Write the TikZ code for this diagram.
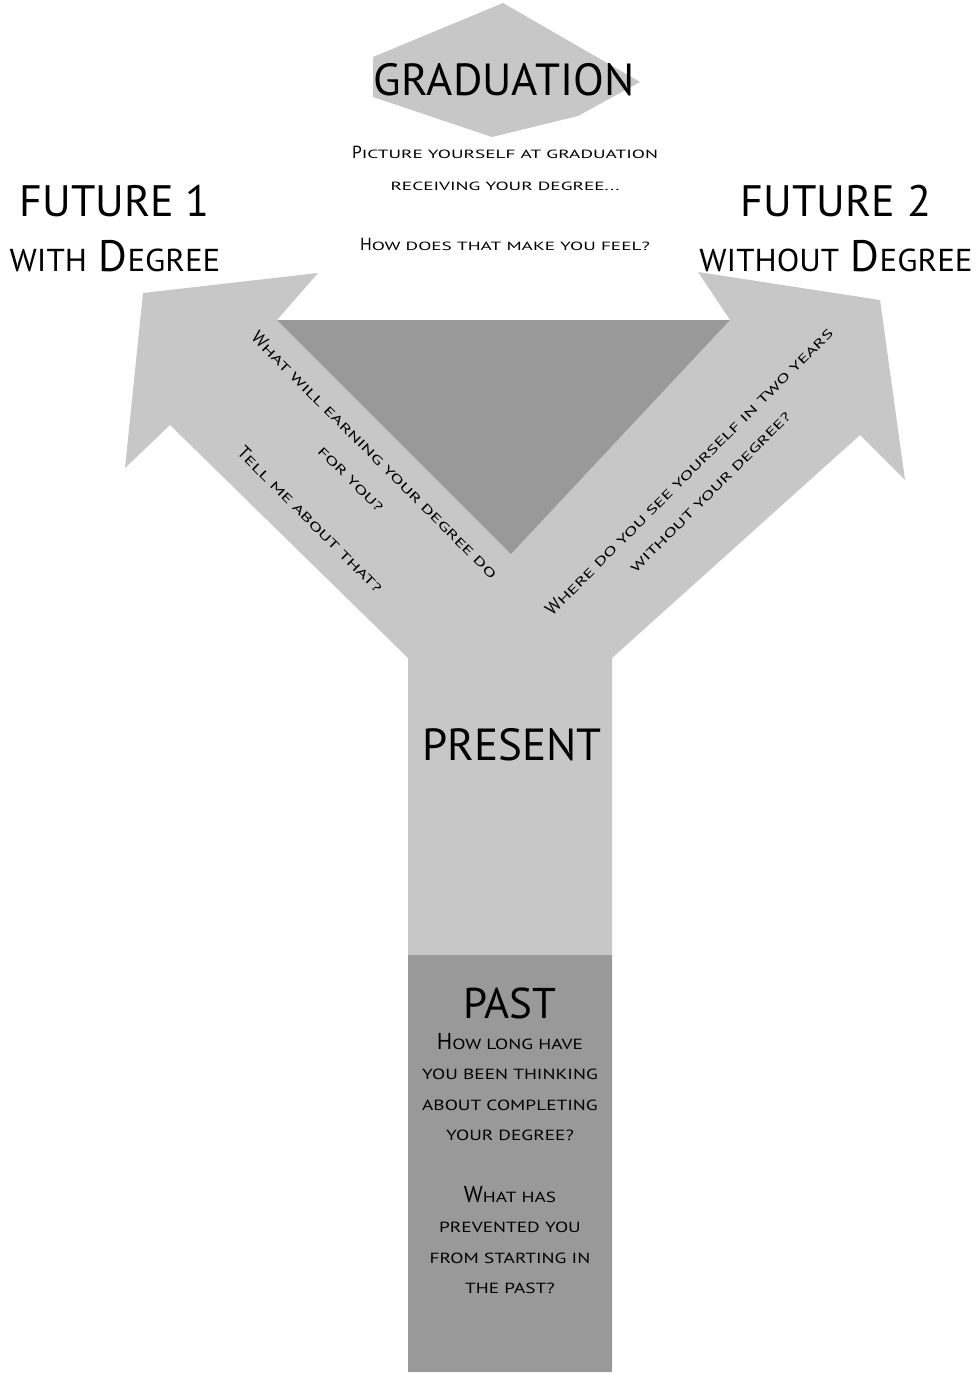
\documentclass[tikz,border=0pt]{standalone}
\usepackage{fontspec}
\setmainfont{PT Sans}
\newcommand\lcx[3]{\scalebox{#1}[#2]{\MakeUppercase{#3}}}
\newcommand\hsc[1]{\lcx{0.75}{0.72}{#1}}
\newcommand\qsc[1]{\lcx{1.1}{0.68}{#1}}
\newcommand\psc[1]{\lcx{0.84}{0.64}{#1}}
\colorlet{lightfill}{black!22}
\colorlet{darkfill}{black!40}
\begin{document}
\begin{tikzpicture}[x=1pt,y=-1pt,
  lightshape/.style={fill=lightfill,draw=none},
  darkshape/.style={fill=darkfill,draw=none},
  bigtitle/.style={inner sep=0pt,anchor=base,font=\fontsize{43}{50}\selectfont},
  headblock/.style={inner sep=0pt,anchor=north,align=center,font=\fontsize{44}{55}\selectfont},
  question/.style={inner sep=0pt,align=center,font=\fontsize{18}{33}\selectfont}]
\useasboundingbox (0,0) rectangle (978,1374);
\fill[white] (0,0) rectangle (978,1374);
% Y-shaped arrow body
\path[lightshape] (143,293) -- (318,273) -- (277,320) -- (511,554) -- (730,320)
  -- (698,272) -- (880,300) -- (905,480) -- (860,435) -- (612,658)
  -- (612,1372) -- (408,1372) -- (408,658) -- (170,425) -- (125,468) -- cycle;
% darker wedge between the arms
\path[darkshape] (277,320) -- (730,320) -- (511,554) -- cycle;
% graduation arrowhead
\path[lightshape] (503,3) -- (640,82) -- (578,116) -- (492,137) -- (373,97) -- (373,57) -- cycle;
% past block
\path[darkshape] (408,955) rectangle (612,1372);
% texts
\node[bigtitle,font=\fontsize{45}{50}\selectfont] (grad) at (504,95) {GRADUATION};
\node[inner sep=0pt,anchor=north,align=center,font=\fontsize{17.5}{32}\selectfont] (gradq) at (505,146)
  {P\qsc{icture yourself at graduation}\\ \qsc{receiving your degree...}\\[28pt] H\qsc{ow does that make you feel?}};
\node[headblock] (fut1) at (115,185) {FUTURE 1\\ \hsc{with} D\hsc{egree}};
\node[headblock] (fut2) at (836,185) {FUTURE 2\\ \hsc{without} D\hsc{egree}};
\node[inner sep=0pt,anchor=base,font=\fontsize{45}{50}\selectfont] (present) at (512,760) {PRESENT};
\node[bigtitle] (past) at (510,1018) {PAST};
\node[inner sep=0pt,anchor=north,align=center,font=\fontsize{23}{30.5}\selectfont] (pastq) at (510,1033)
  {H\psc{ow long have}\\ \psc{you been thinking}\\ \psc{about completing}\\ \psc{your degree?}\\[31pt]
   W\psc{hat has}\\ \psc{prevented you}\\ \psc{from starting in}\\ \psc{the past?}};
\node[question,rotate=-45] (q1) at (343,487)
  {W\qsc{hat will earning your degree do}\\ \qsc{for you?}\\[25pt] T\qsc{ell me about that?}};
\node[question,rotate=45,font=\fontsize{18}{29}\selectfont] (q2) at (699,481)
  {W\qsc{here do you see yourself in two years}\\ \qsc{without your degree?}};
\end{tikzpicture}
\end{document}
